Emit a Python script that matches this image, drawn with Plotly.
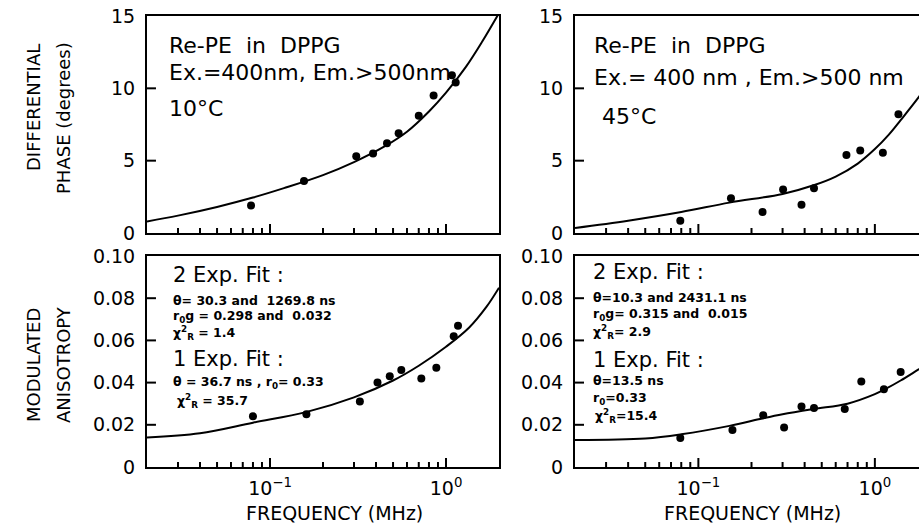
import math
import plotly.graph_objects as go

# ---------------- data ----------------
# measured points (frequency in MHz)
freq_10C = [0.078, 0.156, 0.309, 0.385, 0.462, 0.538, 0.70, 0.85, 1.08, 1.135]
phase_10C = [1.9, 3.6, 5.3, 5.5, 6.2, 6.9, 8.1, 9.5, 10.9, 10.4]
aniso_10C_freq = [0.080, 0.161, 0.324, 0.408, 0.479, 0.557, 0.724, 0.881, 1.106, 1.17]
aniso_10C = [0.024, 0.025, 0.031, 0.040, 0.043, 0.046, 0.042, 0.047, 0.062, 0.067]

freq_45C = [0.079, 0.153, 0.231, 0.302, 0.384, 0.452, 0.69, 0.826, 1.11, 1.36]
phase_45C = [0.85, 2.4, 1.45, 3.0, 1.95, 3.1, 5.4, 5.7, 5.55, 8.2]
aniso_45C_freq = [0.079, 0.156, 0.233, 0.306, 0.384, 0.452, 0.675, 0.838, 1.125, 1.40]
aniso_45C = [0.0137, 0.0175, 0.0245, 0.0187, 0.0287, 0.028, 0.0275, 0.0405, 0.0368, 0.045]

# fitted curves
fit_phase_10C_f = [0.02, 0.03, 0.05, 0.08, 0.12, 0.2, 0.3, 0.45, 0.6, 0.8, 1.0, 1.3, 1.6, 2.0]
fit_phase_10C = [0.8, 1.2, 1.8, 2.45, 3.1, 4.0, 4.9, 6.0, 7.0, 8.4, 9.7, 11.5, 13.2, 15.2]
fit_phase_45C_f = [0.02, 0.04, 0.08, 0.15, 0.3, 0.45, 0.6, 0.8, 1.0, 1.2, 1.4, 1.75, 2.0]
fit_phase_45C = [0.35, 0.85, 1.45, 2.1, 2.7, 3.3, 3.9, 4.8, 5.8, 6.8, 7.8, 9.3, 10.3]
fit_aniso_10C_f = [0.02, 0.04, 0.08, 0.16, 0.3, 0.5, 0.7, 1.0, 1.35, 1.7, 2.0]
fit_aniso_10C = [0.014, 0.016, 0.021, 0.026, 0.033, 0.041, 0.048, 0.057, 0.066, 0.076, 0.085]
fit_aniso_45C_f = [0.02, 0.05, 0.08, 0.15, 0.23, 0.3, 0.45, 0.7, 1.0, 1.15, 1.4, 1.75, 2.0]
fit_aniso_45C = [0.0128, 0.0135, 0.0155, 0.0195, 0.023, 0.025, 0.0275, 0.030, 0.0345, 0.037, 0.041, 0.046, 0.049]

# axis ticks
x_major = [0.1, 1.0]
x_major_text = ["10<sup>−1</sup>", "10<sup>0</sup>"]
x_minor = [0.03, 0.04, 0.05, 0.06, 0.07, 0.08, 0.09,
           0.2, 0.3, 0.4, 0.5, 0.6, 0.7, 0.8, 0.9]
phase_ticks = [0, 5, 10, 15]
aniso_ticks = [0, 0.02, 0.04, 0.06, 0.08, 0.10]
aniso_tick_text = ["0", "0.02", "0.04", "0.06", "0.08", "0.10"]

# ---------------- layout helpers ----------------
W, H = 919, 524
FONT = "DejaVu Sans"


def px(x):
    return x / W


def py(y):
    return 1 - y / H


LEFT_X = [px(147), px(499)]
RIGHT_X = [px(575), 1.0]
TOP_Y = [py(233), py(16)]
BOT_Y = [py(467), py(256)]

lo = math.log10(0.02)
hi_left = math.log10(2.0)
PX_PER_DECADE = 176.5
hi_right = lo + (919 - 575) / PX_PER_DECADE

MAJOR_LEN, MINOR_LEN = 9, 5  # tick lengths in pixels

fig = go.Figure()

panels = [
    (1, freq_10C, phase_10C, fit_phase_10C_f, fit_phase_10C,
     [lo, hi_left], LEFT_X, [0, 15], TOP_Y, phase_ticks, [str(v) for v in phase_ticks], False, True),
    (2, freq_45C, phase_45C, fit_phase_45C_f, fit_phase_45C,
     [lo, hi_right], RIGHT_X, [0, 15], TOP_Y, phase_ticks, [str(v) for v in phase_ticks], False, False),
    (3, aniso_10C_freq, aniso_10C, fit_aniso_10C_f, fit_aniso_10C,
     [lo, hi_left], LEFT_X, [0, 0.10], BOT_Y, aniso_ticks, aniso_tick_text, True, True),
    (4, aniso_45C_freq, aniso_45C, fit_aniso_45C_f, fit_aniso_45C,
     [lo, hi_right], RIGHT_X, [0, 0.10], BOT_Y, aniso_ticks, aniso_tick_text, True, False),
]

layout_axes = {}
for (i, fx, fy, cx, cy, xr, xd, yr, yd, yv, yt, xlab, right) in panels:
    xa = "x" if i == 1 else f"x{i}"
    ya = "y" if i == 1 else f"y{i}"

    # inward tick marks, laid out on the panel's own scales
    panel_h = (yd[1] - yd[0]) * H
    y_per_px = (yr[1] - yr[0]) / panel_h
    tx, ty = [], []
    for v in x_major + x_minor:
        if math.log10(v) >= xr[1]:
            continue
        length = MAJOR_LEN if v in x_major else MINOR_LEN
        tx += [v, v, None]
        ty += [yr[0], yr[0] + length * y_per_px, None]
    x_end = 10 ** (xr[0] + MAJOR_LEN / PX_PER_DECADE)
    for v in yv[1:-1]:
        tx += [10 ** xr[0], x_end, None]
        ty += [v, v, None]
    fig.add_trace(go.Scatter(x=tx, y=ty, xaxis=xa, yaxis=ya, mode="lines",
                             line=dict(color="black", width=2), connectgaps=False,
                             hoverinfo="skip", showlegend=False))

    fig.add_trace(go.Scatter(x=cx, y=cy, xaxis=xa, yaxis=ya, mode="lines",
                             line=dict(color="black", width=2, shape="spline", smoothing=1.0),
                             hoverinfo="skip", showlegend=False))
    fig.add_trace(go.Scatter(x=fx, y=fy, xaxis=xa, yaxis=ya, mode="markers",
                             marker=dict(color="black", size=8),
                             showlegend=False))

    xkey = "xaxis" if i == 1 else f"xaxis{i}"
    ykey = "yaxis" if i == 1 else f"yaxis{i}"
    layout_axes[xkey] = dict(
        type="log", domain=xd, range=xr, anchor=ya,
        showline=True, linecolor="black", linewidth=2, mirror=True,
        showgrid=False, zeroline=False, ticks="",
        tickmode="array", tickvals=x_major, ticktext=x_major_text,
        showticklabels=xlab, ticklabelstandoff=3,
        tickfont=dict(family=FONT, size=19, color="black"))
    layout_axes[ykey] = dict(
        domain=yd, range=yr, anchor=xa,
        showline=True, linecolor="black", linewidth=2, mirror=right,
        showgrid=False, zeroline=False, ticks="",
        tickmode="array", tickvals=yv, ticktext=yt, ticklabelstandoff=6,
        tickfont=dict(family=FONT, size=19, color="black"))

fig.update_layout(
    width=W, height=H, margin=dict(l=0, r=0, t=0, b=0, autoexpand=False),
    paper_bgcolor="white", plot_bgcolor="white", showlegend=False,
    **layout_axes,
)

NB = "\u00a0"


def note(x, y, text, size, bold=False, xanchor="left", yanchor="middle", angle=0):
    fig.add_annotation(x=px(x), y=py(y), xref="paper", yref="paper",
                       text=text, showarrow=False, xanchor=xanchor, yanchor=yanchor,
                       textangle=angle, borderpad=0,
                       font=dict(family=FONT, size=size, color="black",
                                 weight="bold" if bold else "normal"))


# phase panel captions
note(168, 45, f"Re-PE{NB}{NB}in{NB}{NB}DPPG", 22)
note(168, 73, "Ex.=400nm, Em.>500nm", 22)
note(168, 108, "10°C", 22)
note(593, 45, f"Re-PE{NB}{NB}in{NB}{NB}DPPG", 22)
note(593, 78, "Ex.= 400 nm , Em.>500 nm", 22)
note(601, 116, "45°C", 22)

# anisotropy panel captions
note(172, 275, "2 Exp. Fit :", 21)
note(172, 300, "θ= 30.3 and  1269.8 ns", 12.5, True)
note(172, 316, "r<sub>0</sub>g = 0.298 and  0.032", 12.5, True)
note(172, 333, "χ<sup>2</sup><sub>R</sub> = 1.4", 12.5, True)
note(172, 359, "1 Exp. Fit :", 21)
note(172, 382, "θ = 36.7 ns , r<sub>0</sub>= 0.33", 12.5, True)
note(176, 401, "χ<sup>2</sup><sub>R</sub> = 35.7", 12.5, True)

note(592, 272, "2 Exp. Fit :", 21)
note(592, 297, "θ=10.3 and 2431.1 ns", 12.5, True)
note(592, 314, "r<sub>0</sub>g= 0.315 and  0.015", 12.5, True)
note(592, 332, "χ<sup>2</sup><sub>R</sub>= 2.9", 12.5, True)
note(592, 360, "1 Exp. Fit :", 21)
note(592, 380, "θ=13.5 ns", 12.5, True)
note(592, 398, "r<sub>0</sub>=0.33", 12.5, True)
note(594, 416, "χ<sup>2</sup><sub>R</sub>=15.4", 12.5, True)

# axis titles
note(334, 525, "FREQUENCY (MHz)", 19, xanchor="center", yanchor="bottom")
note(752, 525, "FREQUENCY (MHz)", 19, xanchor="center", yanchor="bottom")
note(33, 108, "DIFFERENTIAL", 18, xanchor="center", angle=-90)
note(63, 118, "PHASE (degrees)", 18, xanchor="center", angle=-90)
note(33, 365, "MODULATED", 18, xanchor="center", angle=-90)
note(63, 365, "ANISOTROPY", 18, xanchor="center", angle=-90)

fig.write_html("out.html")
